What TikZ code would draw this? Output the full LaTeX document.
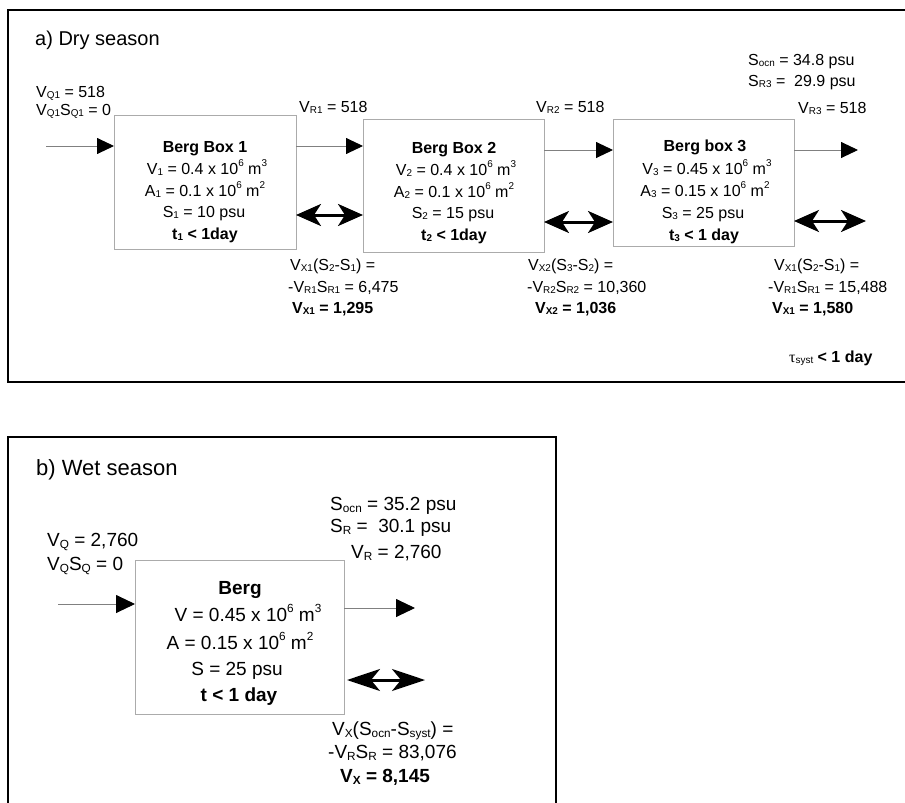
\documentclass[tikz,border=0pt]{standalone}
\usepackage{fontspec}
\setmainfont{Liberation Sans}
\newfontfamily\greekf{Liberation Serif}
\usetikzlibrary{arrows.meta}
% small lowered / raised indices
\newcommand\lo[1]{\raisebox{-0.2ex}{\scalebox{0.62}{#1}}}
\newcommand\hi[1]{\raisebox{0.85ex}{\scalebox{0.62}{#1}}}

\begin{document}
\begin{tikzpicture}[x=1pt,y=-1pt,
  frame/.style={line width=2.6pt, line join=miter},
  berg/.style={draw=black!33, line width=0.9pt, anchor=north west, inner sep=0pt, outer sep=0pt},
  lbl/.style={anchor=base west, inner sep=0pt, font=\fontsize{16}{19}\selectfont},
  ctr/.style={anchor=base, inner sep=0pt, font=\fontsize{16}{19}\selectfont},
  lblw/.style={anchor=base west, inner sep=0pt, font=\fontsize{19}{22}\selectfont},
  ctrw/.style={anchor=base, inner sep=0pt, font=\fontsize{19}{22}\selectfont},
  flow/.style={draw=black!50, line width=0.9pt, -{Triangle[length=17pt,width=16pt,color=black]}},
  floww/.style={draw=black!50, line width=0.9pt, -{Triangle[length=19pt,width=18pt,color=black]}},
  mix/.style={line width=3pt, {Stealth[length=25pt,width=22pt,inset=7pt]}-{Stealth[length=25pt,width=22pt,inset=7pt]}},
  mixw/.style={line width=3pt, {Stealth[length=33pt,width=22pt,inset=9pt]}-{Stealth[length=33pt,width=22pt,inset=9pt]}}
]
\useasboundingbox (0,0) rectangle (905,803);

% ---------------- a) Dry season ----------------
\draw[frame] (906,10) -- (8,10) -- (8,382) -- (906,382);
\node[lbl, font=\fontsize{20}{24}\selectfont] (ta) at (35,45) {a) Dry season};

\node[berg, minimum width=182pt, minimum height=134pt] (box1) at (114,115) {};
\node[berg, minimum width=181pt, minimum height=133pt] (box2) at (363,119) {};
\node[berg, minimum width=181pt, minimum height=127pt] (box3) at (613,119) {};

% box contents
\node[ctr, font=\fontsize{16}{19}\selectfont\bfseries] (b1h) at (205,152) {Berg Box 1};
\node[ctr] (b1v) at (207,174) {V\lo{1} = 0.4 x 10\hi{6} m\hi{3}};
\node[ctr] (b1a) at (205,196) {A\lo{1} = 0.1 x 10\hi{6} m\hi{2}};
\node[ctr] (b1s) at (204,217) {S\lo{1} = 10 psu};
\node[ctr, font=\fontsize{16}{19}\selectfont\bfseries] (b1t) at (205,239) {t\lo{1} < 1day};

\node[ctr, font=\fontsize{16}{19}\selectfont\bfseries] (b2h) at (454,153) {Berg Box 2};
\node[ctr] (b2v) at (456,175) {V\lo{2} = 0.4 x 10\hi{6} m\hi{3}};
\node[ctr] (b2a) at (454,197) {A\lo{2} = 0.1 x 10\hi{6} m\hi{2}};
\node[ctr] (b2s) at (453,218) {S\lo{2} = 15 psu};
\node[ctr, font=\fontsize{16}{19}\selectfont\bfseries] (b2t) at (454,240) {t\lo{2} < 1day};

\node[ctr, font=\fontsize{16}{19}\selectfont\bfseries] (b3h) at (705,151) {Berg box 3};
\node[ctr] (b3v) at (707,174) {V\lo{3} = 0.45 x 10\hi{6} m\hi{3}};
\node[ctr] (b3a) at (705,196) {A\lo{3} = 0.15 x 10\hi{6} m\hi{2}};
\node[ctr] (b3s) at (703,218) {S\lo{3} = 25 psu};
\node[ctr, font=\fontsize{16}{19}\selectfont\bfseries] (b3t) at (704,240) {t\lo{3} < 1 day};

% flow labels
\node[lbl] (vq1) at (36,97) {V\lo{Q1} = 518};
\node[lbl] (vq1s) at (36,115) {V\lo{Q1}S\lo{Q1} = 0};
\node[lbl] (vr1) at (299,112) {V\lo{R1} = 518};
\node[lbl] (vr2) at (536,112) {V\lo{R2} = 518};
\node[lbl] (vr3) at (798,113) {V\lo{R3} = 518};
\node[lbl] (socn) at (748,65) {S\lo{ocn} = 34.8 psu};
\node[lbl] (sr3) at (748,86) {S\lo{R3} = \ 29.9 psu};

% advective flows
\coordinate (qin) at (46,146);
\coordinate (ya) at (0,146);
\coordinate (yb) at (0,150);
\coordinate (rout) at (858,150);
\draw[flow] (qin) -- (box1.west |- qin);
\draw[flow] (box1.east |- ya) -- (box2.west |- ya);
\draw[flow] (box2.east |- yb) -- (box3.west |- yb);
\draw[flow] (box3.east |- yb) -- (rout);

% exchange flows
\coordinate (yx1) at (0,215);
\coordinate (yx2) at (0,222);
\coordinate (xout) at (866,221);
\draw[mix] (box1.east |- yx1) -- (box2.west |- yx1);
\draw[mix] (box2.east |- yx2) -- (box3.west |- yx2);
\draw[mix] (box3.east |- xout) -- (xout);

% exchange balances
\node[lbl] (e1a) at (290,270) {V\lo{X1}(S\lo{2}-S\lo{1}) =};
\node[lbl] (e1b) at (288,292) {-V\lo{R1}S\lo{R1} = 6,475};
\node[lbl, font=\fontsize{16}{19}\selectfont\bfseries] (e1c) at (292,313) {V\lo{X1} = 1,295};
\node[lbl] (e2a) at (528,270) {V\lo{X2}(S\lo{3}-S\lo{2}) =};
\node[lbl] (e2b) at (527,292) {-V\lo{R2}S\lo{R2} = 10,360};
\node[lbl, font=\fontsize{16}{19}\selectfont\bfseries] (e2c) at (535,313) {V\lo{X2} = 1,036};
\node[lbl] (e3a) at (774,270) {V\lo{X1}(S\lo{2}-S\lo{1}) =};
\node[lbl] (e3b) at (768,292) {-V\lo{R1}S\lo{R1} = 15,488};
\node[lbl, font=\fontsize{16}{19}\selectfont\bfseries] (e3c) at (772,313) {V\lo{X1} = 1,580};
\node[lbl] (tau) at (789,362) {{\greekf τ}\lo{syst} \textbf{< 1 day}};

% ---------------- b) Wet season ----------------
\draw[frame] (8,806) -- (8,437) -- (556,437) -- (556,806);
\node[lblw, font=\fontsize{22}{26}\selectfont] (tb) at (36,475) {b) Wet season};

\node[berg, minimum width=209pt, minimum height=154pt] (box4) at (135,560) {};
\node[ctrw, font=\fontsize{19}{22}\selectfont\bfseries] (b4h) at (240,594) {Berg};
\node[ctrw] (b4v) at (248,621) {V = 0.45 x 10\hi{6} m\hi{3}};
\node[ctrw] (b4a) at (240,649) {A = 0.15 x 10\hi{6} m\hi{2}};
\node[ctrw] (b4s) at (237,675) {S = 25 psu};
\node[ctrw, font=\fontsize{19}{22}\selectfont\bfseries] (b4t) at (239,701) {t < 1 day};

\node[lblw] (vq) at (47,546) {V\lo{Q} = 2,760};
\node[lblw] (vqs) at (47,570) {V\lo{Q}S\lo{Q} = 0};
\node[lblw] (socnw) at (330,510) {S\lo{ocn} = 35.2 psu};
\node[lblw] (srw) at (330,532) {S\lo{R} = \ 30.1 psu};
\node[lblw] (vrw) at (351,558) {V\lo{R} = 2,760};

\coordinate (qinw) at (58,604);
\coordinate (yw) at (0,608);
\coordinate (routw) at (415,608);
\coordinate (xl) at (347,680);
\coordinate (xr) at (425,680);
\draw[floww] (qinw) -- (box4.west |- qinw);
\draw[floww] (box4.east |- yw) -- (routw);
\draw[mixw] (xl) -- (xr);

\node[lblw] (ewa) at (332,735) {V\lo{X}(S\lo{ocn}-S\lo{syst}) =};
\node[lblw] (ewb) at (328,758) {-V\lo{R}S\lo{R} = 83,076};
\node[lblw, font=\fontsize{19}{22}\selectfont\bfseries] (ewc) at (340,782) {V\lo{X} = 8,145};
\end{tikzpicture}
\end{document}
